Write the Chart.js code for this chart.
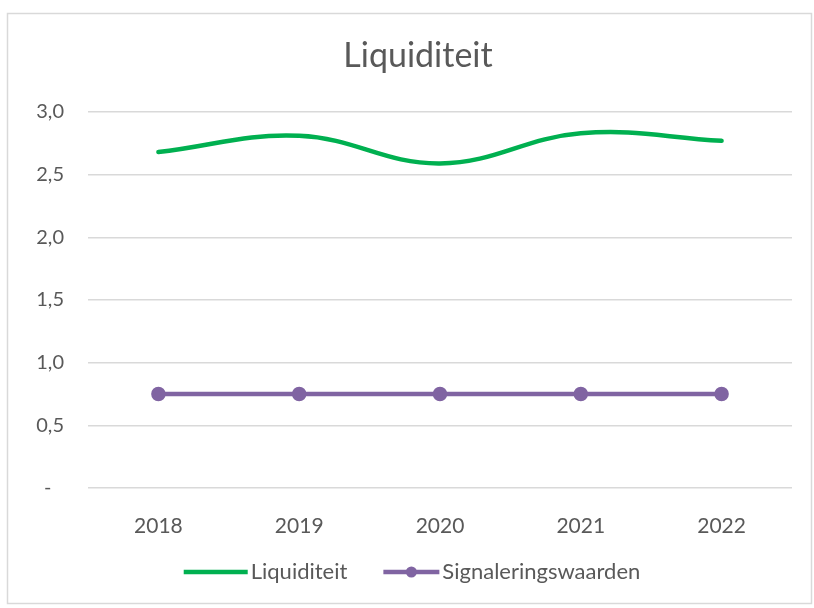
<!DOCTYPE html>
<html>
<head>
<meta charset="utf-8">
<title>Liquiditeit</title>
<script src="https://cdn.jsdelivr.net/npm/chart.js@4"></script>
<style>
  html, body { margin: 0; padding: 0; background: #fff; }
  canvas { display: block; }
</style>
</head>
<body>
<canvas id="liquidity-chart" width="814" height="608"></canvas>
<script>
const years = ["2018", "2019", "2020", "2021", "2022"];
const liquiditeit = [2.68, 2.81, 2.59, 2.83, 2.77];
const signaleringswaarden = [0.75, 0.75, 0.75, 0.75, 0.75];
const chartTitle = "Liquiditeit";

const GREEN = "#00B050";
const PURPLE = "#8064A2";
const GRID = "#d9d9d9";
const TEXT = "#595959";
const FONT = "Lato, 'Open Sans', sans-serif";

function formatTick(value) {
  if (value === 0) return "-\u2002\u2009";
  return value.toFixed(1).replace(".", ",");
}

// frame, title and legend the way Excel draws them
const excelDecor = {
  id: "excelDecor",
  afterDraw(chart) {
    const ctx = chart.ctx;
    ctx.save();

    ctx.strokeStyle = GRID;
    ctx.lineWidth = 1.5;
    ctx.strokeRect(7.5, 13.5, 804, 590);

    ctx.fillStyle = TEXT;
    ctx.font = `34px ${FONT}`;
    ctx.textAlign = "center";
    ctx.textBaseline = "middle";
    ctx.fillText(chartTitle, 418, 56);

    const y = 572;
    ctx.font = `22px ${FONT}`;
    ctx.textAlign = "left";
    const items = chart.data.datasets.map(ds => ({
      label: ds.label,
      color: ds.borderColor,
      marker: ds.pointRadius > 0,
      lineLen: ds.pointRadius > 0 ? 56 : 64,
      width: ctx.measureText(ds.label).width,
    }));
    const gapLine = 3, gapItem = 36;
    const total = items.reduce((s, it) => s + it.lineLen + gapLine + it.width, 0) + gapItem * (items.length - 1);
    let x = 412 - total / 2;
    items.forEach(it => {
      ctx.strokeStyle = it.color;
      ctx.lineWidth = 4.5;
      ctx.beginPath();
      ctx.moveTo(x, y);
      ctx.lineTo(x + it.lineLen, y);
      ctx.stroke();
      if (it.marker) {
        ctx.fillStyle = it.color;
        ctx.beginPath();
        ctx.arc(x + it.lineLen / 2, y, 5.5, 0, Math.PI * 2);
        ctx.fill();
      }
      x += it.lineLen + gapLine;
      ctx.fillStyle = TEXT;
      ctx.fillText(it.label, x, y);
      x += it.width + gapItem;
    });

    ctx.restore();
  }
};

function createChart() {
  Chart.defaults.font.family = FONT;
  Chart.defaults.color = TEXT;

  new Chart(document.getElementById("liquidity-chart"), {
    type: "line",
    data: {
      labels: years,
      datasets: [
        {
          label: "Liquiditeit",
          data: liquiditeit,
          borderColor: GREEN,
          backgroundColor: GREEN,
          borderWidth: 4.5,
          pointRadius: 0,
          tension: 0.4,
          borderCapStyle: "round",
        },
        {
          label: "Signaleringswaarden",
          data: signaleringswaarden,
          borderColor: PURPLE,
          backgroundColor: PURPLE,
          pointBackgroundColor: PURPLE,
          pointBorderColor: PURPLE,
          borderWidth: 4.5,
          pointRadius: 5,
          tension: 0,
        },
      ],
    },
    options: {
      responsive: false,
      animation: false,
      layout: { padding: { top: 112, right: 22, bottom: 0, left: 0 } },
      plugins: {
        legend: { display: false },
        title: { display: false },
        tooltip: { enabled: false },
      },
      scales: {
        x: {
          offset: true,
          grid: { display: false },
          border: { display: false },
          ticks: { font: { size: 21 }, color: TEXT, padding: 18 },
          afterFit: scale => { scale.height = 120; },
        },
        y: {
          min: 0,
          max: 3,
          grid: { color: GRID, lineWidth: 1.5, drawTicks: false },
          border: { display: false },
          ticks: {
            stepSize: 0.5,
            font: { size: 20 },
            color: TEXT,
            padding: 24,
            callback: formatTick,
          },
          afterFit: scale => { scale.width = 88; },
        },
      },
    },
    plugins: [excelDecor],
  });
}

document.fonts.load(`20px Lato`).then(createChart, createChart);
</script>
</body>
</html>
